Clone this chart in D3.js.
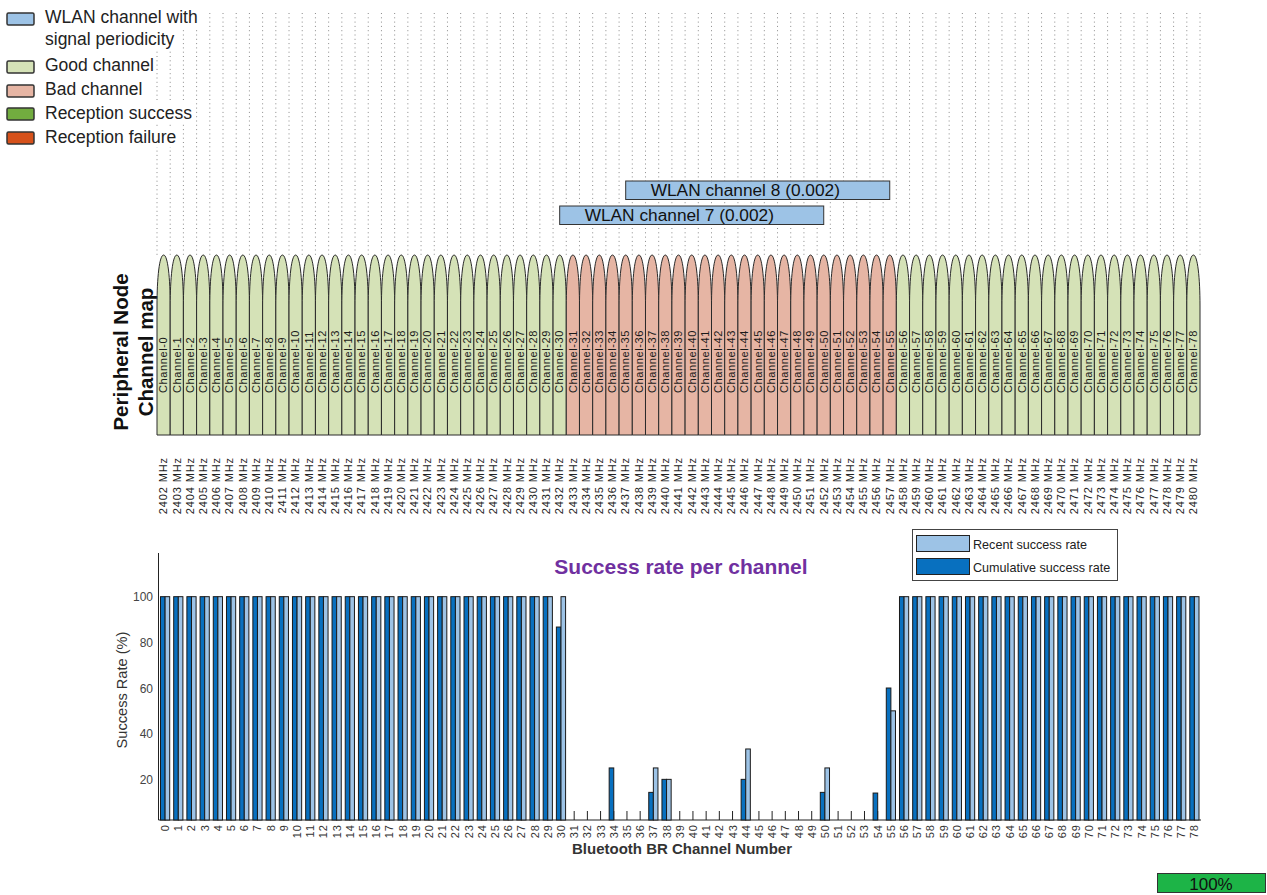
<!DOCTYPE html>
<html>
<head>
<meta charset="utf-8">
<script src="https://cdn.jsdelivr.net/npm/d3@7"></script>
<style>
  html, body { margin: 0; padding: 0; background: #fff; }
  svg { display: block; font-family: "Liberation Sans", Arial, sans-serif; }
</style>
</head>
<body>
<svg id="chart" width="1267" height="895"></svg>
<script>
// ---------------- DATA ----------------
const channelNumbers = [0,1,2,3,4,5,6,7,8,9,10,11,12,13,14,15,16,17,18,19,20,21,22,23,24,25,26,27,28,29,30,31,32,33,34,35,36,37,38,39,40,41,42,43,44,45,46,47,48,49,50,51,52,53,54,55,56,57,58,59,60,61,62,63,64,65,66,67,68,69,70,71,72,73,74,75,76,77,78];
const baseFrequencyMHz = 2402;
const badChannels = [31,32,33,34,35,36,37,38,39,40,41,42,43,44,45,46,47,48,49,50,51,52,53,54,55];
const cumulativeSuccess = [100,100,100,100,100,100,100,100,100,100,100,100,100,100,100,100,100,100,100,100,100,100,100,100,100,100,100,100,100,100,
  86.7,0,0,0,25,0,0,14.3,20,0,0,0,0,0,20,0,0,0,0,0,14.3,0,0,0,14,60,
  100,100,100,100,100,100,100,100,100,100,100,100,100,100,100,100,100,100,100,100,100,100,100];
const recentSuccess = [100,100,100,100,100,100,100,100,100,100,100,100,100,100,100,100,100,100,100,100,100,100,100,100,100,100,100,100,100,100,
  100,0,0,0,0,0,0,25,20,0,0,0,0,0,33.3,0,0,0,0,0,25,0,0,0,0,50,
  100,100,100,100,100,100,100,100,100,100,100,100,100,100,100,100,100,100,100,100,100,100,100];
const wlanChannels = ["WLAN channel 8 (0.002)", "WLAN channel 7 (0.002)"];
const wlanStartMHz = [2437, 2432];
const wlanEndMHz = [2457, 2452];
const yTicks = [20, 40, 60, 80, 100];
const legendItems = [["WLAN channel with", "signal periodicity"], ["Good channel"], ["Bad channel"], ["Reception success"], ["Reception failure"]];
const legendColors = ["#9dc3e6", "#d5e2b7", "#e6b5a4", "#72ac3f", "#d6511b"];
const barSeries = ["Recent success rate", "Cumulative success rate"];
const progressText = "100%";

// ---------------- COLOURS ----------------
const C = { wlan: "#9dc3e6", good: "#d5e2b7", bad: "#e6b5a4", cum: "#0870bf", rec: "#9dc3e6" };

const svg = d3.select("#chart");

// ---------------- CHANNEL MAP ----------------
const xMap = d3.scaleBand().domain(channelNumbers).range([157, 1200]).padding(0);
const bw = xMap.bandwidth();
const freqX = f => xMap(f - baseFrequencyMHz) + bw / 2;
const mapTop = 255, mapShoulder = 306, mapBottom = 435;

// dotted grid
const grid = svg.append("g");
d3.range(channelNumbers.length + 1).forEach(k => {
  const x = 157 + k * bw;
  grid.append("line").attr("x1", x).attr("x2", x).attr("y1", 13).attr("y2", mapTop)
    .attr("stroke", "#8a8a8a").attr("stroke-width", 1).attr("stroke-dasharray", "1,3.3");
});

// lobes
const lobes = svg.append("g");
channelNumbers.forEach(ch => {
  const x0 = xMap(ch), x1 = x0 + bw, xc = x0 + bw / 2;
  const p = `M${x0},${mapBottom} L${x0},${mapShoulder} C${x0},${mapShoulder - 28} ${xc - bw * 0.32},${mapTop} ${xc},${mapTop} C${xc + bw * 0.32},${mapTop} ${x1},${mapShoulder - 28} ${x1},${mapShoulder} L${x1},${mapBottom} Z`;
  lobes.append("path").attr("d", p)
    .attr("fill", badChannels.includes(ch) ? C.bad : C.good)
    .attr("stroke", "#2a2a2a").attr("stroke-width", 1);
});
// channel labels
channelNumbers.forEach(ch => {
  const cx = xMap(ch) + bw / 2 + 3.8;
  svg.append("text").attr("transform", `translate(${cx},393) rotate(-90)`)
    .attr("font-size", 11).attr("letter-spacing", 0.6).attr("fill", "#1a1a1a")
    .text("Channel-" + ch);
});
// frequency labels
channelNumbers.forEach(ch => {
  const cx = xMap(ch) + bw / 2 + 3.8;
  svg.append("text").attr("transform", `translate(${cx},457) rotate(-90)`)
    .attr("text-anchor", "end").attr("font-size", 11).attr("letter-spacing", 0.9).attr("fill", "#222")
    .text((baseFrequencyMHz + ch) + " MHz");
});
// y label
svg.append("text").attr("transform", "translate(128,352) rotate(-90)")
  .attr("text-anchor", "middle").attr("font-size", 20.5).attr("font-weight", "bold").attr("fill", "#111")
  .text("Peripheral Node");
svg.append("text").attr("transform", "translate(153,352) rotate(-90)")
  .attr("text-anchor", "middle").attr("font-size", 20.5).attr("font-weight", "bold").attr("fill", "#111")
  .text("Channel map");

// WLAN boxes
const wlanY = [181, 206];
wlanChannels.forEach((name, i) => {
  const xa = freqX(wlanStartMHz[i]), xb = freqX(wlanEndMHz[i]);
  svg.append("rect").attr("x", xa).attr("y", wlanY[i]).attr("width", xb - xa).attr("height", 18.5)
    .attr("fill", C.wlan).attr("stroke", "#333").attr("stroke-width", 1);
  svg.append("text").attr("x", xa + 25).attr("y", wlanY[i] + 15).attr("font-size", 17.3).attr("fill", "#111")
    .text(name);
});

// top legend
const legY = [13, 61, 85, 108, 132];
const legTextY = [[23, 45], [71], [95], [119], [143]];
legendItems.forEach((lines, i) => {
  lines.forEach((t, j) => {
    const tx = svg.append("text").attr("x", 45).attr("y", legTextY[i][j]).attr("font-size", 17.5).attr("fill", "#222").text(t);
    const bb = tx.node().getBBox();
    svg.insert("rect", () => tx.node()).attr("x", bb.x - 1).attr("y", bb.y).attr("width", bb.width + 2).attr("height", bb.height).attr("fill", "#fff");
  });
  svg.append("rect").attr("x", 7).attr("y", legY[i]).attr("width", 27).attr("height", 12).attr("rx", 1.5)
    .attr("fill", legendColors[i]).attr("stroke", "#333").attr("stroke-width", 1.5);
});

// ---------------- BAR CHART ----------------
const xBar = d3.scaleBand().domain(channelNumbers).range([158.5, 1201]).padding(0);
const cw = xBar.bandwidth();
const y = d3.scaleLinear().domain([2.2, 120]).range([820, 551]);
const plot = svg.append("g");

// axes
plot.append("line").attr("x1", 158.5).attr("x2", 158.5).attr("y1", 553).attr("y2", 820).attr("stroke", "#222");
plot.append("line").attr("x1", 158.5).attr("x2", 1201).attr("y1", 820).attr("y2", 820).attr("stroke", "#222");
channelNumbers.forEach(ch => {
  const cx = xBar(ch) + cw / 2;
  plot.append("line").attr("x1", cx).attr("x2", cx).attr("y1", 820).attr("y2", 811).attr("stroke", "#222");
  plot.append("text").attr("transform", `translate(${cx + 4},824) rotate(-90)`)
    .attr("text-anchor", "end").attr("font-size", 11).attr("letter-spacing", 1).attr("fill", "#333").text(ch);
});
yTicks.forEach(t => {
  plot.append("text").attr("x", 153).attr("y", y(t) + 4.5).attr("text-anchor", "end")
    .attr("font-size", 12).attr("fill", "#444").text(t);
});

// bars
const barW = 4.6;
channelNumbers.forEach((ch, i) => {
  const cx = xBar(ch) + cw / 2;
  const c = cumulativeSuccess[i], r = recentSuccess[i];
  if (c > 2.2) plot.append("rect").attr("x", cx - barW).attr("y", y(c)).attr("width", barW).attr("height", 820 - y(c))
    .attr("fill", C.cum).attr("stroke", "#1a1a1a").attr("stroke-width", 1);
  if (r > 2.2) plot.append("rect").attr("x", cx).attr("y", y(r)).attr("width", barW).attr("height", 820 - y(r))
    .attr("fill", C.rec).attr("stroke", "#1a1a1a").attr("stroke-width", 1);
});

// titles
svg.append("text").attr("x", 681).attr("y", 574).attr("text-anchor", "middle")
  .attr("font-size", 21).attr("font-weight", "bold").attr("fill", "#7030a0").text("Success rate per channel");
svg.append("text").attr("x", 682).attr("y", 854).attr("text-anchor", "middle")
  .attr("font-size", 15).attr("font-weight", "bold").attr("fill", "#333").text("Bluetooth BR Channel Number");
svg.append("text").attr("transform", "translate(127,690) rotate(-90)").attr("text-anchor", "middle")
  .attr("font-size", 14.6).attr("fill", "#333").text("Success Rate (%)");

// bar legend
svg.append("rect").attr("x", 912.5).attr("y", 529.5).attr("width", 205).attr("height", 51)
  .attr("fill", "#fff").attr("stroke", "#444").attr("stroke-width", 1);
[C.rec, C.cum].forEach((col, i) => {
  svg.append("rect").attr("x", 916.5).attr("y", 535.5 + i * 23).attr("width", 53).attr("height", 16)
    .attr("fill", col).attr("stroke", "#222").attr("stroke-width", 1);
  svg.append("text").attr("x", 973).attr("y", 548.5 + i * 23).attr("font-size", 12.6).attr("fill", "#222").text(barSeries[i]);
});

// progress indicator
svg.append("rect").attr("x", 1157.5).attr("y", 873.5).attr("width", 108).attr("height", 19)
  .attr("fill", "#1db447").attr("stroke", "#333").attr("stroke-width", 1);
svg.append("text").attr("x", 1211).attr("y", 889.5).attr("text-anchor", "middle").attr("font-size", 17).attr("fill", "#111").text(progressText);
</script>
</body>
</html>
